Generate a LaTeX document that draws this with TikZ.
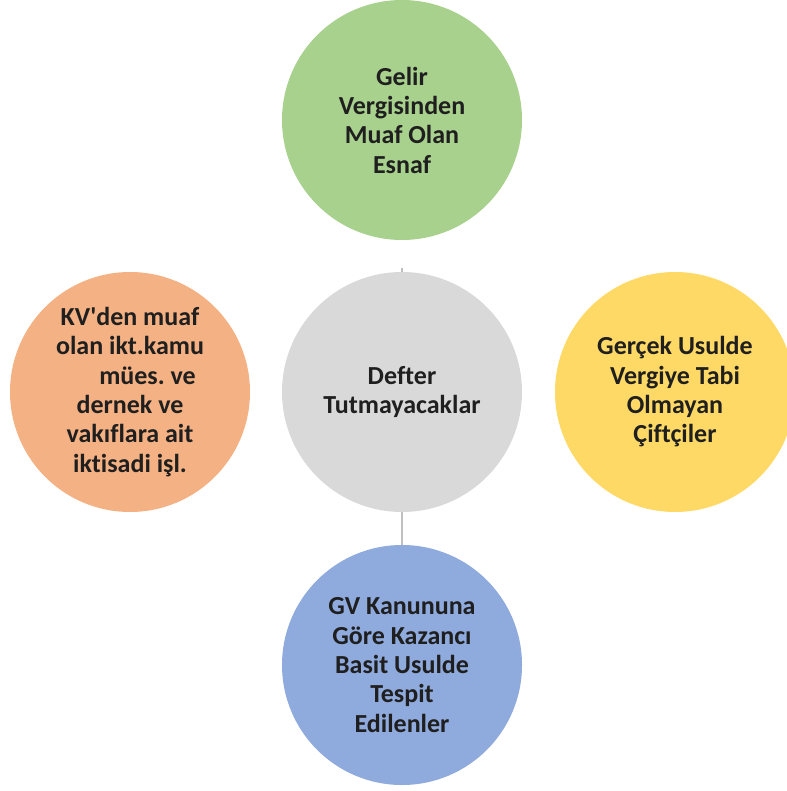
\documentclass[tikz,border=0pt]{standalone}
\usepackage{fontspec}
\setmainfont{Carlito}[Ligatures={NoCommon}]
\frenchspacing
\definecolor{greenc}{HTML}{A9D18E}
\definecolor{grayc}{HTML}{D9D9D9}
\definecolor{yellowc}{HTML}{FFD966}
\definecolor{orangec}{HTML}{F4B183}
\definecolor{bluec}{HTML}{8FAADC}
\definecolor{linec}{HTML}{BFBFBF}
\definecolor{textc}{HTML}{1F1F1F}
\tikzset{
  bubble/.style={circle,minimum size=180pt,inner sep=0pt,align=center,
    text=textc,font=\fontsize{19.5}{22}\selectfont\bfseries\frenchspacing},
  link/.style={draw=linec,line width=2pt}
}
\begin{document}
\begin{tikzpicture}[x=0.75pt,y=-0.75pt]
\clip (0,0) rectangle (787,791);
\node[bubble,fill=grayc] (defter) at (402,392) {Defter\\Tutmayacaklar};
\node[bubble,fill=greenc] (esnaf) at (402,120) {Gelir\\Vergisinden\\Muaf Olan\\Esnaf};
\node[bubble,fill=yellowc] (ciftci) at (675,392) {Gerçek Usulde\\Vergiye Tabi\\Olmayan\\Çiftçiler};
\node[bubble,fill=orangec] (kv) at (130,392) {KV\textquotesingle den muaf\\olan ikt.kamu\\\hspace*{1.35em}mües. ve\\dernek ve\hspace*{0.3em}\\vakıflara ait\\iktisadi işl.};
\node[bubble,fill=bluec] (basit) at (402,665) {GV Kanununa\\Göre Kazancı\\Basit Usulde\\Tespit\\Edilenler};
\coordinate (tick) at (402,268);
\draw[link,line width=0.8pt] (tick) -- (defter);
\draw[link] (defter) -- (basit);
\end{tikzpicture}
\end{document}
